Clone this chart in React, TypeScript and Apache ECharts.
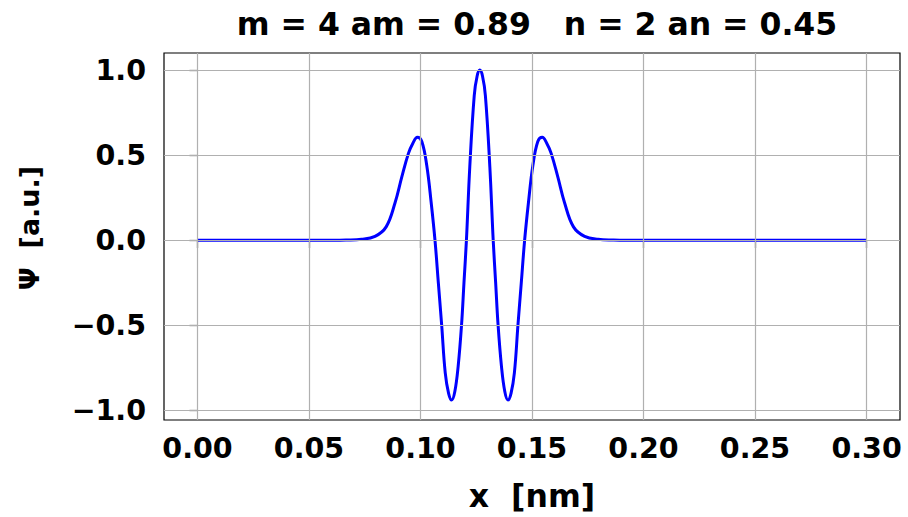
import React, { useEffect, useRef } from "react";
import * as echarts from "echarts";

const titleText = "m = 4 am = 0.89   n = 2 an = 0.45";
const xName = "x  [nm]";
const yName = "Ψ  [a.u.]";

const xTicks = [0, 0.05, 0.1, 0.15, 0.2, 0.25, 0.3];
const yTicks = [-1, -0.5, 0, 0.5, 1];

const xValues = [
  0.0, 0.0606, 0.0666, 0.0736, 0.0796, 0.0846, 0.0886, 0.0916, 0.0946, 0.0966,
  0.0986, 0.1006, 0.1028, 0.1048, 0.1065, 0.108, 0.1095, 0.1111, 0.1126, 0.114,
  0.1154, 0.1169, 0.1184, 0.1195, 0.1206, 0.1221, 0.1241, 0.1254, 0.1266, 0.1278,
  0.1291, 0.1311, 0.1326, 0.1337, 0.1348, 0.1363, 0.1378, 0.1392, 0.1406, 0.1421,
  0.1437, 0.1452, 0.1467, 0.1484, 0.1504, 0.1526, 0.1546, 0.1566, 0.1586, 0.1616,
  0.1646, 0.1686, 0.1736, 0.1796, 0.1866, 0.1926, 0.3,
];
const psiValues = [
  0, 0, 0.001, 0.005, 0.022, 0.078, 0.22, 0.37, 0.51, 0.57,
  0.605, 0.58, 0.44, 0.22, 0, -0.25, -0.5, -0.78, -0.9, -0.94,
  -0.89, -0.74, -0.5, -0.25, 0, 0.43, 0.85, 0.965, 1.0, 0.965,
  0.85, 0.43, 0, -0.25, -0.5, -0.74, -0.89, -0.94, -0.9, -0.78,
  -0.5, -0.25, 0, 0.22, 0.44, 0.58, 0.605, 0.57, 0.51, 0.37,
  0.22, 0.078, 0.022, 0.005, 0.001, 0, 0,
];

const FONT = "DejaVu Sans";

export default function App() {
  const ref = useRef<HTMLDivElement>(null);
  useEffect(() => {
    if (!ref.current) return;
    const chart = echarts.init(ref.current, null, { renderer: "svg" });
    const data = xValues.map((x, i) => [x, psiValues[i]]);
    const gridLine = { color: "#b0b0b0", width: 1.2, type: "solid" as const };
    chart.setOption({
      animation: false,
      backgroundColor: "#ffffff",
      title: {
        text: titleText,
        left: 532,
        top: 3,
        textAlign: "center",
        textStyle: { fontFamily: FONT, fontWeight: "bold", fontSize: 31.5, color: "#000" },
      },
      graphic: [
        {
          type: "text",
          x: 29,
          y: 228,
          rotation: Math.PI / 2,
          style: {
            text: yName,
            fontFamily: FONT,
            fontWeight: "bold",
            fontSize: 27,
            fill: "#000",
            textAlign: "center",
            textVerticalAlign: "middle",
          },
        },
      ],
      grid: {
        left: 164,
        right: 8,
        top: 53,
        bottom: 97,
        show: true,
        borderColor: "#000",
        borderWidth: 1.2,
        backgroundColor: "transparent",
      },
      xAxis: {
        type: "value",
        min: -0.015,
        max: 0.315,
        name: xName,
        nameLocation: "middle",
        nameGap: 60,
        nameTextStyle: { fontFamily: FONT, fontWeight: "bold", fontSize: 31.5, color: "#000" },
        axisLine: { show: false },
        splitLine: { show: false },
        axisTick: {
          show: true,
          customValues: xTicks,
          length: 8,
          lineStyle: { color: "#000", width: 1.2 },
        },
        axisLabel: {
          customValues: xTicks,
          margin: 14,
          formatter: (v: number) => v.toFixed(2),
          fontFamily: FONT,
          fontWeight: "bold",
          fontSize: 28.5,
          color: "#000",
        },
      },
      yAxis: {
        type: "value",
        min: -1.057,
        max: 1.1,
        axisLine: { show: false },
        splitLine: { show: false },
        axisTick: {
          show: true,
          customValues: yTicks,
          length: 8,
          lineStyle: { color: "#000", width: 1.2 },
        },
        axisLabel: {
          customValues: yTicks,
          margin: 18,
          formatter: (v: number) => (v < 0 ? "\u2212" + Math.abs(v).toFixed(1) : v.toFixed(1)),
          fontFamily: FONT,
          fontWeight: "bold",
          fontSize: 28.5,
          color: "#000",
        },
      },
      series: [
        {
          type: "line",
          data: [],
          z: 1,
          silent: true,
          markLine: {
            silent: true,
            symbol: "none",
            label: { show: false },
            lineStyle: gridLine,
            emphasis: { disabled: true },
            data: [
              ...xTicks.map((v) => ({ xAxis: v })),
              ...yTicks.map((v) => ({ yAxis: v })),
            ],
          },
        },
        {
          type: "line",
          data,
          z: 3,
          showSymbol: false,
          smooth: 0.4,
          lineStyle: { color: "#0000ff", width: 3 },
          itemStyle: { color: "#0000ff" },
        },
      ],
    });
    return () => chart.dispose();
  }, []);
  return (
    <div
      ref={ref}
      style={{ position: "fixed", left: 0, top: 0, width: 908, height: 517, background: "#fff" }}
    />
  );
}
